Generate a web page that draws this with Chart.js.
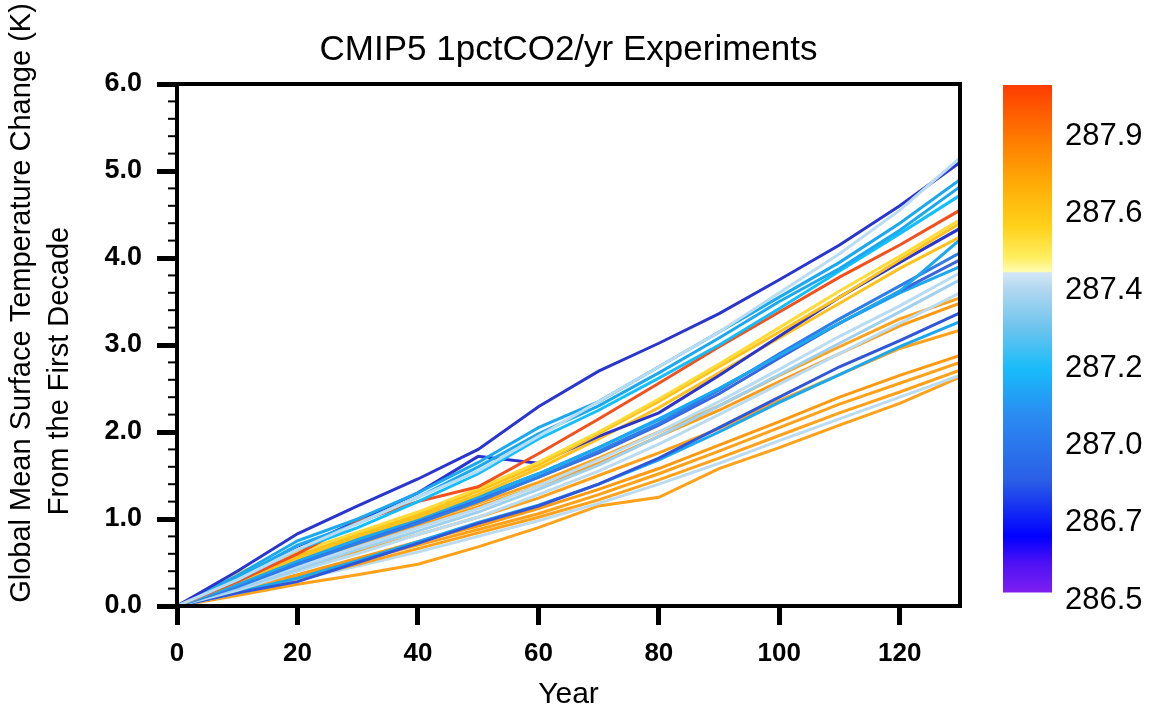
<!DOCTYPE html>
<html>
<head>
<meta charset="utf-8">
<script src="https://cdn.jsdelivr.net/npm/chart.js@4"></script>
<style>
  body { margin: 0; background: #fff; }
  #wrap { position: relative; width: 1163px; height: 715px; }
  #main { position: absolute; left: 0; top: 0; }
  #bar { position: absolute; left: 990px; top: 0; }
</style>
</head>
<body>
<div id="wrap">
  <canvas id="main" width="1163" height="715"></canvas>
  <canvas id="bar" width="173" height="715"></canvas>
</div>
<script>
// decades since the start of the run
var years = [0, 10, 20, 30, 40, 50, 60, 70, 80, 90, 100, 110, 120, 130];

// one temperature change series per model (K)
var runs = [
  [0, 0.30, 0.65, 0.95, 1.25, 1.55, 1.95, 2.35, 2.75, 3.15, 3.60, 4.05, 4.55, 5.15],
  [0, 0.40, 0.83, 1.15, 1.46, 1.80, 2.29, 2.70, 3.02, 3.36, 3.75, 4.15, 4.60, 5.10],
  [0, 0.35, 0.75, 1.00, 1.30, 1.65, 2.05, 2.35, 2.75, 3.15, 3.55, 3.95, 4.40, 4.90],
  [0, 0.32, 0.70, 0.95, 1.25, 1.60, 1.98, 2.30, 2.68, 3.08, 3.50, 3.88, 4.32, 4.82],
  [0, 0.30, 0.65, 0.90, 1.20, 1.52, 1.92, 2.25, 2.62, 3.00, 3.42, 3.85, 4.28, 4.72],
  [0, 0.28, 0.60, 0.97, 1.20, 1.37, 1.75, 2.15, 2.56, 2.98, 3.38, 3.78, 4.15, 4.55],
  [0, 0.38, 0.62, 0.85, 1.08, 1.35, 1.65, 2.00, 2.38, 2.78, 3.20, 3.62, 4.02, 4.44],
  [0, 0.30, 0.58, 0.82, 1.05, 1.32, 1.62, 1.98, 2.35, 2.75, 3.15, 3.55, 3.98, 4.40],
  [0, 0.30, 0.66, 0.98, 1.30, 1.72, 1.64, 1.95, 2.22, 2.65, 3.10, 3.55, 3.95, 4.34],
  [0, 0.28, 0.55, 0.80, 1.02, 1.28, 1.58, 1.92, 2.28, 2.68, 3.08, 3.48, 3.88, 4.24],
  [0, 0.25, 0.52, 0.76, 1.00, 1.25, 1.52, 1.82, 2.15, 2.50, 2.88, 3.25, 3.62, 4.21],
  [0, 0.22, 0.48, 0.72, 0.95, 1.20, 1.48, 1.78, 2.10, 2.48, 2.90, 3.30, 3.68, 4.06],
  [0, 0.24, 0.50, 0.74, 0.98, 1.22, 1.48, 1.76, 2.08, 2.44, 2.85, 3.25, 3.62, 3.98],
  [0, 0.26, 0.55, 0.78, 1.02, 1.26, 1.52, 1.82, 2.14, 2.50, 2.88, 3.25, 3.60, 3.90],
  [0, 0.22, 0.45, 0.68, 0.90, 1.12, 1.38, 1.68, 2.00, 2.35, 2.72, 3.10, 3.45, 3.83],
  [0, 0.20, 0.42, 0.65, 0.86, 1.08, 1.34, 1.62, 1.95, 2.30, 2.66, 3.02, 3.38, 3.75],
  [0, 0.18, 0.40, 0.60, 0.82, 1.02, 1.28, 1.55, 1.86, 2.20, 2.55, 2.90, 3.25, 3.60],
  [0, 0.30, 0.52, 0.72, 0.95, 1.18, 1.42, 1.70, 2.00, 2.30, 2.65, 2.98, 3.30, 3.54],
  [0, 0.28, 0.50, 0.70, 0.92, 1.14, 1.38, 1.64, 1.95, 2.25, 2.58, 2.90, 3.22, 3.48],
  [0, 0.15, 0.28, 0.50, 0.72, 0.95, 1.15, 1.40, 1.70, 2.05, 2.40, 2.75, 3.05, 3.37],
  [0, 0.16, 0.32, 0.52, 0.74, 0.96, 1.16, 1.40, 1.68, 2.00, 2.34, 2.66, 2.98, 3.27],
  [0, 0.22, 0.42, 0.62, 0.82, 1.02, 1.24, 1.50, 1.76, 2.04, 2.36, 2.66, 2.96, 3.17],
  [0, 0.20, 0.36, 0.55, 0.74, 0.92, 1.12, 1.34, 1.58, 1.85, 2.12, 2.40, 2.65, 2.88],
  [0, 0.18, 0.34, 0.52, 0.70, 0.88, 1.06, 1.28, 1.52, 1.78, 2.05, 2.32, 2.56, 2.80],
  [0, 0.16, 0.32, 0.48, 0.66, 0.84, 1.02, 1.22, 1.45, 1.70, 1.96, 2.22, 2.46, 2.71],
  [0, 0.15, 0.30, 0.46, 0.62, 0.80, 0.98, 1.18, 1.40, 1.64, 1.90, 2.15, 2.40, 2.65],
  [0, 0.12, 0.25, 0.36, 0.48, 0.68, 0.90, 1.15, 1.25, 1.58, 1.82, 2.08, 2.33, 2.63]
];

var runColors = [
  '#b9dcf2', '#2a35d0', '#1aa8f0', '#1aa8f0', '#10bfff', '#f2501c', '#ffdb3a',
  '#ffc21a', '#2a35d0', '#ffc21a', '#1aa8f0', '#2f7de8', '#3a66dd', '#1aa8f0',
  '#b9dcf2', '#9fd0ee', '#b9dcf2', '#ffa21a', '#ff9a10', '#2f55d8', '#1aa8f0',
  '#ffa21a', '#ff9a10', '#ffa21a', '#ffa21a', '#b9dcf2', '#ffa21a'
];

var yTicks = [0, 1, 2, 3, 4, 5, 6];
var xTicks = [0, 20, 40, 60, 80, 100, 120];
var yTitle = ['Global Mean Surface Temperature Change (K)', 'From the First Decade'];

// colour bar (base state global mean temperature, K)
var cbLabels = ['286.5', '286.7', '287.0', '287.2', '287.4', '287.6', '287.9'];
var cbStops = [0, 0.06, 0.11, 0.22, 0.35, 0.44, 0.52, 0.60, 0.630, 0.632, 0.66, 0.72, 0.80, 0.88, 1];
var cbColors = ['#7d1ff0', '#4a10f5', '#0000ff', '#2a5ee6', '#2a8cf2', '#18bcfa', '#6cc4ee',
  '#b4d8f0', '#d4e8f6', '#fffcb0', '#ffee60', '#ffd21a', '#ffae08', '#ff8200', '#ff3c00'];

var FONT = "'Liberation Sans', Arial, Helvetica, sans-serif";

var frame = {
  id: 'frame',
  afterDatasetsDraw: function (chart) {
    var a = chart.chartArea, c = chart.ctx, y = chart.scales.y;
    c.save();
    c.strokeStyle = '#000';
    c.lineWidth = 4;
    c.strokeRect(a.left, a.top, a.right - a.left, a.bottom - a.top);
    // minor ticks every 0.2 K
    c.lineWidth = 2;
    for (var v = 0; v <= 6.001; v += 0.2) {
      if (Math.abs(v - Math.round(v)) < 0.01) continue;
      var py = y.getPixelForValue(v);
      c.beginPath();
      c.moveTo(a.left - 9, py);
      c.lineTo(a.left, py);
      c.stroke();
    }
    // y axis title, the two lines sit a bit apart vertically as in NCL
    c.fillStyle = '#000';
    c.font = '29px ' + FONT;
    c.textAlign = 'center';
    c.textBaseline = 'middle';
    [[22, 303], [60, 371]].forEach(function (p, i) {
      c.save();
      c.translate(p[0], p[1]);
      c.rotate(-Math.PI / 2);
      c.fillText(yTitle[i], 0, 0);
      c.restore();
    });
    c.restore();
  }
};

var datasets = runs.map(function (r, i) {
  return {
    data: r.map(function (v, j) { return { x: years[j], y: v }; }),
    borderColor: runColors[i],
    borderWidth: 3,
    pointRadius: 0,
    tension: 0,
    fill: false
  };
});

new Chart(document.getElementById('main'), {
  type: 'line',
  data: { datasets: datasets },
  options: {
    responsive: false,
    animation: false,
    layout: { padding: { left: 0, right: 203, top: 0, bottom: 0 } },
    plugins: {
      legend: { display: false },
      tooltip: { enabled: false },
      title: {
        display: true,
        text: 'CMIP5 1pctCO2/yr Experiments',
        fullSize: false,
        color: '#000',
        font: { family: FONT, size: 35, weight: 'normal', lineHeight: 1.2 },
        padding: { top: 29, bottom: 13 }
      }
    },
    scales: {
      x: {
        type: 'linear',
        min: 0,
        max: 130,
        afterBuildTicks: function (s) { s.ticks = xTicks.map(function (v) { return { value: v }; }); },
        afterFit: function (s) { s.height = 109; },
        ticks: { color: '#000', font: { family: FONT, size: 26, weight: 'bold' }, padding: 13, maxRotation: 0 },
        grid: { drawOnChartArea: false, tickLength: 19, lineWidth: 5, color: '#000' },
        border: { display: false },
        title: { display: true, text: 'Year', color: '#000', font: { family: FONT, size: 30 }, padding: { top: 0, bottom: 2 } }
      },
      y: {
        min: 0,
        max: 6,
        afterBuildTicks: function (s) { s.ticks = yTicks.map(function (v) { return { value: v }; }); },
        afterFit: function (s) { s.width = 177; },
        ticks: {
          color: '#000', font: { family: FONT, size: 27, weight: 'bold' }, padding: 15,
          callback: function (v) { return v.toFixed(1); }
        },
        grid: { drawOnChartArea: false, tickLength: 20, lineWidth: 5, color: '#000' },
        border: { display: false },
        title: { display: false }
      }
    }
  },
  plugins: [frame]
});

// colour bar drawn as one floating bar filled with the palette;
// the lowest label sits just under the bottom of the bar
var cbLow = 0.10, cbTop = 6.66;
new Chart(document.getElementById('bar'), {
  type: 'bar',
  data: {
    labels: ['T'],
    datasets: [{
      data: [[cbLow, cbTop]],
      barPercentage: 1,
      categoryPercentage: 1,
      borderWidth: 0,
      borderSkipped: false,
      backgroundColor: function (ctx) {
        var a = ctx.chart.chartArea;
        if (!a) return '#ccc';
        var ys = ctx.chart.scales.y;
        var g = ctx.chart.ctx.createLinearGradient(0, ys.getPixelForValue(cbLow), 0, ys.getPixelForValue(cbTop));
        cbStops.forEach(function (s, i) { g.addColorStop(s, cbColors[i]); });
        return g;
      }
    }]
  },
  options: {
    responsive: false,
    animation: false,
    layout: { padding: { left: 13, right: 0, top: 85, bottom: 115 } },
    plugins: { legend: { display: false }, tooltip: { enabled: false } },
    scales: {
      x: { display: false },
      y: {
        position: 'right',
        min: 0,
        max: cbTop,
        afterBuildTicks: function (s) { s.ticks = cbLabels.map(function (l, i) { return { value: i }; }); },
        afterFit: function (s) { s.width = 111; },
        ticks: {
          color: '#000', font: { family: FONT, size: 31 }, padding: 13,
          callback: function (v) { return cbLabels[v]; }
        },
        grid: { display: false, drawTicks: false, tickLength: 0 },
        border: { display: false }
      }
    }
  }
});
</script>
</body>
</html>
